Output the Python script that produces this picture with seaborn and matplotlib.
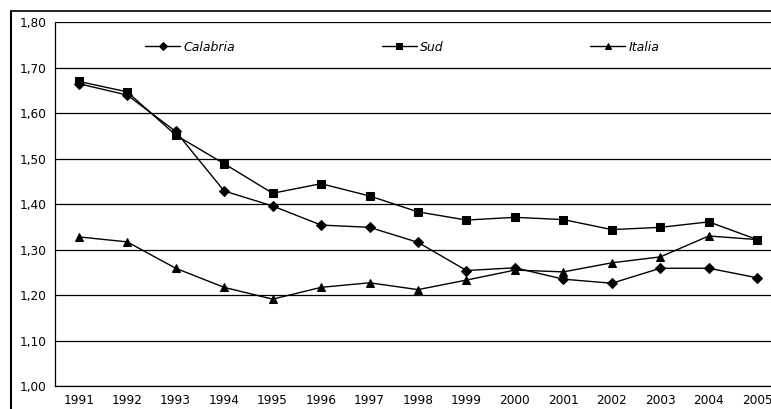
import pandas as pd
import numpy as np
import matplotlib
matplotlib.use("Agg")
import matplotlib.pyplot as plt
from matplotlib.lines import Line2D
from matplotlib.ticker import FixedLocator
import seaborn as sns

# Dati
anni = ["1991", "1992", "1993", "1994", "1995", "1996", "1997", "1998",
        "1999", "2000", "2001", "2002", "2003", "2004", "2005"]
calabria = [1.665, 1.640, 1.560, 1.429, 1.396, 1.354, 1.349, 1.316,
            1.254, 1.260, 1.235, 1.226, 1.259, 1.259, 1.238]
sud = [1.670, 1.647, 1.552, 1.489, 1.424, 1.445, 1.418, 1.383,
       1.365, 1.371, 1.366, 1.344, 1.349, 1.361, 1.322]
italia = [1.328, 1.317, 1.259, 1.217, 1.191, 1.217, 1.227, 1.212,
          1.233, 1.255, 1.251, 1.271, 1.284, 1.330, 1.322]
serie = ["Calabria", "Sud", "Italia"]
y_ticks = [1.00, 1.10, 1.20, 1.30, 1.40, 1.50, 1.60, 1.70, 1.80]
y_labels = ["1,00", "1,10", "1,20", "1,30", "1,40", "1,50", "1,60", "1,70", "1,80"]

df = pd.DataFrame({
    "anno": anni * 3,
    "valore": calabria + sud + italia,
    "serie": [s for s in serie for _ in anni],
})

sns.set_style("white")
plt.rcParams['font.family'] = ['DejaVu Sans']
plt.rcParams['text.color'] = 'black'
plt.rcParams['xtick.color'] = 'black'
plt.rcParams['ytick.color'] = 'black'

fig = plt.figure(figsize=(7.71, 4.09), dpi=100)
ax = fig.add_axes([54.5 / 771, 23 / 409, 727 / 771, 363.7 / 409])

# griglia orizzontale
for t in y_ticks:
    ax.axhline(t, color="black", lw=0.9, zorder=1)

sns.lineplot(data=df, x="anno", y="valore", style="serie", hue="serie",
             palette=["black"] * 3, markers={"Calabria": "D", "Sud": "s", "Italia": "^"},
             dashes=False, sort=False, ax=ax, lw=1.0, markersize=5.5,
             markeredgecolor="black", zorder=3)

ax.set_xlim(-0.5, len(anni) - 0.5)
ax.set_ylim(1.0, 1.8)
ax.set_yticks(y_ticks)
ax.set_yticklabels(y_labels, fontsize=8.7)
ax.set_xticks(range(len(anni)))
ax.set_xticklabels(anni, fontsize=8.7)
ax.xaxis.set_minor_locator(FixedLocator(np.arange(-0.5, len(anni), 1)))
ax.tick_params(axis="x", which="major", length=0, pad=6, labelcolor="black")
ax.tick_params(axis="x", which="minor", length=4, direction="out", color="black", width=0.8)
ax.tick_params(axis="y", length=4, direction="out", color="black", width=0.8, pad=2,
               labelcolor="black")
ax.set_xlabel("")
ax.set_ylabel("")

for s in ["top", "right"]:
    ax.spines[s].set_visible(False)
for s in ["left", "bottom"]:
    ax.spines[s].set_color("black")
    ax.spines[s].set_linewidth(0.9)

handles, labels = ax.get_legend_handles_labels()
leg = ax.legend(handles, labels, loc="center left", bbox_to_anchor=(0.1245, 0.932),
                ncol=3, frameon=False, borderpad=0, borderaxespad=0,
                handlelength=2.8, handletextpad=0.3, columnspacing=11.7,
                prop={"size": 9, "style": "italic"})
for txt in leg.get_texts():
    txt.set_color("black")
for h in leg.legend_handles:
    h.set_markersize(4.5)

# cornice esterna
fig.add_artist(Line2D([11 / 771, 11 / 771], [0, 1 - 11 / 409], color="black", lw=1.5))
fig.add_artist(Line2D([11 / 771, 1], [1 - 11 / 409, 1 - 11 / 409], color="black", lw=1.2))

fig.savefig("out.png", dpi=100)
